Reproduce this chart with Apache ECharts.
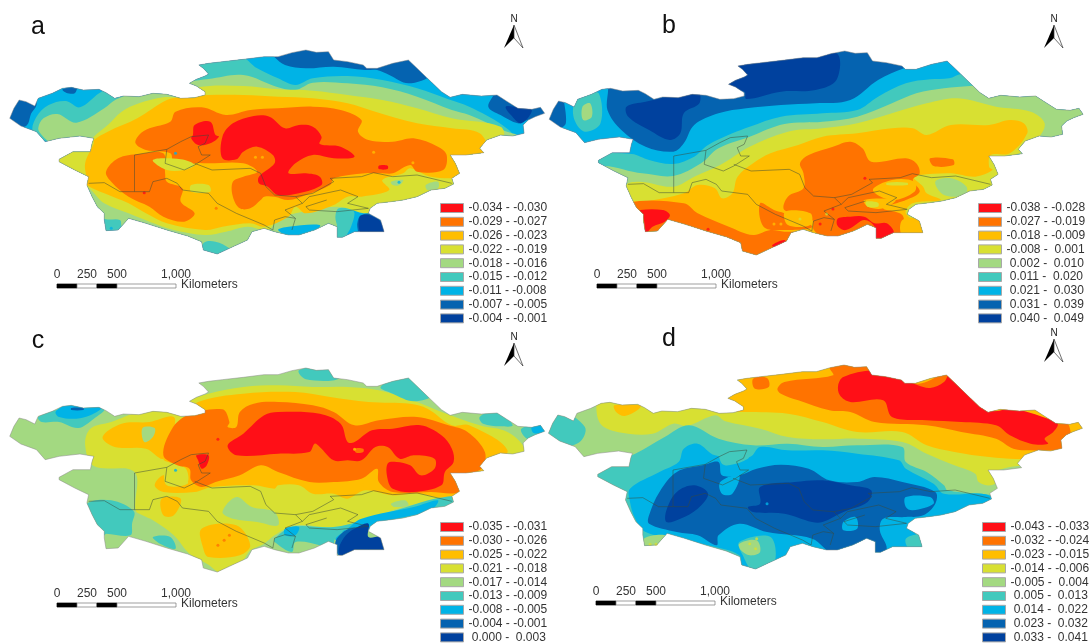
<!DOCTYPE html>
<html><head><meta charset="utf-8">
<style>html,body{margin:0;padding:0;background:#fff}#c{width:1089px;height:644px;filter:blur(0.4px)}</style>
<script src="https://cdn.jsdelivr.net/npm/echarts@6/dist/echarts.min.js"></script>
</head><body><div id="c"></div>
<script>
// Class colours, red (lowest) to navy (highest)
const classColors = ['#ff0f17','#ff7300','#ffbe00','#d8e032','#a3d981','#42c9bd','#00b3e6','#0563b0','#00419e'];

// Legend class labels for the four panels
const labelsA = ['-0.034 - -0.030','-0.029 - -0.027','-0.026 - -0.023','-0.022 - -0.019','-0.018 - -0.016','-0.015 - -0.012','-0.011 - -0.008','-0.007 - -0.005','-0.004 - -0.001'];
const labelsB = ['-0.038 - -0.028','-0.027 - -0.019','-0.018 - -0.009','-0.008 - 0.001','0.002 - 0.010','0.011 - 0.020','0.021 - 0.030','0.031 - 0.039','0.040 - 0.049'];
const labelsC = ['-0.035 - -0.031','-0.030 - -0.026','-0.025 - -0.022','-0.021 - -0.018','-0.017 - -0.014','-0.013 - -0.009','-0.008 - -0.005','-0.004 - -0.001','0.000 - 0.003'];
const labelsD = ['-0.043 - -0.033','-0.032 - -0.024','-0.023 - -0.015','-0.014 - -0.006','-0.005 - 0.004','0.005 - 0.013','0.014 - 0.022','0.023 - 0.032','0.033 - 0.041'];
const panelNames = ['a','b','c','d'];
const scaleTicks = ['0','250','500','1,000'];

// Region outline (map units)
const outline = [[28,355],[40,325],[55,300],[75,305],[100,318],[110,295],[150,280],[180,265],[205,262],[240,270],[285,268],[305,278],[330,295],[355,288],[400,290],[440,280],[480,283],[520,295],[560,293],[590,285],[590,275],[565,258],[545,250],[565,238],[590,228],[600,222],[585,205],[572,195],[600,190],[640,185],[700,178],[760,170],[800,170],[840,158],[880,150],[910,157],[945,155],[960,180],[1000,185],[1045,195],[1055,205],[1085,205],[1130,190],[1175,180],[1200,205],[1240,245],[1270,275],[1295,292],[1330,283],[1385,288],[1430,285],[1460,305],[1490,325],[1530,328],[1555,322],[1567,340],[1540,350],[1520,360],[1505,375],[1508,400],[1475,408],[1440,405],[1400,420],[1380,445],[1392,458],[1340,465],[1295,465],[1310,490],[1322,520],[1300,535],[1305,552],[1280,565],[1240,570],[1200,590],[1160,600],[1125,605],[1085,610],[1065,625],[1060,640],[1095,660],[1105,695],[1060,695],[1020,695],[985,712],[970,712],[970,680],[945,670],[925,680],[905,690],[860,705],[830,705],[790,695],[760,685],[725,695],[712,720],[660,745],[625,762],[585,750],[580,725],[540,708],[480,690],[420,670],[370,655],[340,690],[305,692],[300,660],[300,640],[280,620],[265,590],[250,555],[255,530],[215,510],[170,485],[170,478],[210,455],[260,455],[265,430],[270,415],[230,408],[170,415],[130,425],[105,395],[60,378]];

// Country borders and lake shores (map units)
const borders = [
 [[387,575],[387,465],[480,448],[520,425],[550,410],[600,405],[590,430],[570,440],[580,465],[605,465],[560,495],[530,510],[475,490],[480,448]],
 [[255,550],[300,548],[345,575],[387,575],[430,575],[440,545],[480,535],[510,550],[525,570],[600,580],[625,610],[680,640],[760,675],[785,690],[790,660],[820,650],[850,655],[840,690]],
 [[560,490],[610,510],[720,505],[750,520],[765,560],[790,585],[850,590],[900,580],[960,545],[950,535],[1040,530],[1075,518],[1130,530],[1200,525],[1300,550]],
 [[850,590],[870,610],[820,630],[850,655]],
 [[870,610],[890,590],[980,570],[1030,590],[1000,610],[1060,625],[970,635],[890,630],[880,620],[940,600]]
];

// Offsets of the shared outline in each panel's map frame
const panelShift = [[0,0],[-16,3],[0,-12],[-18,-21]];

// Contour layers, painted in order: [class index, [polygons]]
const layersA = [
 [7,[[[-20,-20],[1600,-20],[1600,900],[-20,900]]]],
 [6,[[[105,250],[770,150],[790,172],[820,195],[880,205],[960,200],[1050,210],[1085,210],[1120,225],[1175,250],[1240,225],[1210,190],[1240,170],[1420,270],[1405,320],[1440,345],[1490,370],[1510,362],[1600,350],[1600,620],[1110,640],[1040,645],[1028,670],[1030,700],[1020,800],[0,800],[0,400],[75,378],[90,340],[105,315]]]],
 [5,[[[95,395],[105,350],[140,315],[190,303],[230,322],[285,280],[320,260],[500,200],[690,170],[740,205],[800,235],[850,255],[900,235],[1000,228],[1100,240],[1200,265],[1290,298],[1350,320],[1445,375],[1480,420],[1400,600],[1100,620],[1010,620],[1020,640],[1010,680],[1000,700],[985,730],[500,800],[300,800],[200,600],[150,440]]]],
 [4,[[[120,405],[110,385],[125,355],[165,342],[220,368],[300,325],[335,298],[400,275],[545,245],[600,237],[700,225],[800,262],[850,270],[900,248],[1000,250],[1100,262],[1200,290],[1300,330],[1350,345],[1445,390],[1500,420],[1400,600],[1050,625],[975,625],[965,650],[968,690],[900,760],[680,770],[660,745],[620,725],[585,730],[560,800],[360,700],[350,680],[345,660],[305,658],[250,640],[200,600],[150,440]]]],
 [3,[[[250,560],[200,530],[150,480],[200,440],[262,425],[270,410],[310,375],[350,335],[400,310],[470,292],[530,290],[570,262],[700,258],[800,268],[900,272],[1000,285],[1100,300],[1200,325],[1300,355],[1440,380],[1450,420],[1400,600],[1060,640],[970,620],[850,640],[800,660],[770,690],[712,680],[650,695],[590,705],[500,690],[430,665],[370,640],[300,610],[262,570]]]],
 [2,[[[250,555],[250,540],[245,490],[270,430],[270,420],[310,395],[395,355],[480,300],[530,290],[600,285],[700,285],[800,290],[900,295],[1000,310],[1080,335],[1200,370],[1300,385],[1380,400],[1400,450],[1340,500],[1330,530],[1240,530],[1180,505],[1160,520],[1100,540],[1120,570],[1040,590],[1000,590],[960,615],[880,640],[850,620],[830,650],[760,680],[720,670],[640,680],[590,690],[480,670],[420,640],[370,610],[300,580]]]],
 [1,[[[390,430],[400,405],[430,385],[490,365],[505,335],[580,322],[650,345],[720,330],[800,325],[900,320],[980,330],[1040,360],[1030,395],[1060,420],[1130,425],[1190,415],[1260,440],[1285,465],[1275,510],[1200,515],[1180,495],[1130,520],[1100,520],[1050,520],[960,535],[950,555],[880,585],[830,600],[790,590],[760,590],[750,600],[720,625],[690,625],[670,590],[670,545],[700,530],[740,515],[700,490],[600,490],[560,490],[555,500],[500,490],[490,460],[420,450]],
      [[305,515],[340,475],[400,462],[470,460],[475,520],[480,545],[525,565],[520,605],[560,640],[530,665],[470,650],[430,620],[370,590],[320,545]]]],
 [3,[[[440,480],[520,478],[560,495],[530,510],[480,510]],[[550,555],[600,555],[605,575],[550,575]]]],
 [0,[[[640,475],[640,410],[670,370],[730,348],[775,350],[820,385],[860,375],[900,380],[925,410],[920,432],[980,440],[1020,470],[960,475],[900,465],[850,490],[830,520],[880,520],[920,530],[925,555],[860,580],[800,585],[770,560],[745,550],[745,530],[790,490],[785,465],[740,440],[700,455],[680,478]],
      [[555,405],[560,375],[605,365],[620,405],[630,410],[605,430],[570,435],[550,415]],
      [[1090,497],[1115,497],[1115,507],[1090,507]]]],
 [4,[[[1125,545],[1160,540],[1150,555],[1130,555]],[[1225,555],[1260,545],[1260,565],[1230,570]]]],
 [6,[[[800,690],[830,680],[920,675],[905,695],[840,710]]]],
 [7,[[[180,268],[220,262],[215,280],[190,278]]]],
 [8,[[[1455,320],[1490,322],[1530,330],[1500,370],[1470,345]],[[1035,650],[1060,645],[1095,665],[1105,700],[1040,700]]]]
];
const layersB = [
 [7,[[[-20,-20],[1600,-20],[1600,900],[-20,900]]]],
 [6,[[[60,250],[175,250],[180,330],[220,390],[290,440],[370,455],[400,430],[430,375],[500,340],[580,325],[680,315],[780,310],[880,300],[960,240],[1035,205],[1140,170],[1600,170],[1600,800],[40,800],[40,395],[60,370]]]],
 [5,[[[140,465],[250,462],[300,480],[370,492],[430,470],[470,435],[540,400],[590,380],[680,350],[800,340],[900,330],[960,290],[1040,250],[1110,238],[1165,235],[1200,222],[1600,200],[1600,800],[100,800],[100,500]],
      [[85,310],[120,285],[155,280],[160,370],[115,395],[85,360]]]],
 [4,[[[150,510],[280,520],[370,528],[450,490],[500,445],[590,410],[690,372],[800,365],[900,350],[1000,310],[1070,280],[1150,265],[1225,258],[1300,250],[1600,250],[1600,800],[200,800]],
      [[108,320],[130,310],[135,350],[110,360]]]],
 [3,[[[230,560],[270,545],[370,560],[430,530],[505,495],[590,440],[700,395],[800,385],[900,370],[1000,340],[1100,310],[1190,295],[1300,320],[1400,335],[1440,370],[1420,415],[1350,470],[1300,480],[1320,550],[1350,650],[1100,800],[230,800]]]],
 [4,[[[1125,545],[1170,535],[1215,560],[1210,585],[1150,585]]]],
 [2,[[[240,610],[290,605],[400,580],[440,555],[490,565],[510,595],[540,580],[555,530],[600,490],[650,460],[730,435],[800,410],[900,400],[1000,385],[1060,385],[1100,405],[1170,375],[1280,375],[1340,360],[1380,370],[1390,400],[1340,460],[1285,465],[1280,500],[1290,510],[1240,530],[1170,520],[1080,525],[1060,530],[1090,560],[1100,580],[1140,600],[1060,610],[1040,640],[1100,700],[1000,800],[240,800]]]],
 [1,[[[735,490],[760,465],[830,440],[880,425],[915,445],[940,485],[1040,475],[1070,490],[1080,520],[1060,540],[1080,575],[1040,600],[975,625],[1030,645],[1030,690],[1010,710],[950,730],[930,680],[820,720],[775,690],[770,660],[690,630],[700,590],[745,565],[745,520]],
      [[240,610],[400,610],[440,640],[530,680],[600,705],[650,690],[690,695],[770,700],[790,730],[620,800],[500,740],[280,720],[240,660]],
      [[620,610],[660,630],[690,640],[770,680],[690,690],[630,680]],
      [[1110,475],[1175,478],[1178,495],[1120,498]]]],
 [2,[[[692,635],[765,640],[765,675],[700,675]],[[945,570],[1000,540],[1065,545],[1065,575],[1000,600]],[[920,600],[1010,600],[975,625],[930,620]],[[1030,660],[1085,660],[1100,705],[1030,705]]]],
 [3,[[[985,548],[1045,548],[1045,555],[985,555]],[[925,605],[960,608],[960,620],[930,620]]]],
 [0,[[[275,630],[340,630],[360,645],[345,665],[310,680],[290,700],[285,660],[275,640]],
      [[845,655],[880,650],[920,650],[950,670],[985,670],[1005,700],[955,725],[950,680],[920,660],[880,685],[860,690],[842,675]],
      [[655,735],[690,720],[695,735],[660,742]]]],
 [8,[[[555,190],[700,170],[840,160],[840,240],[780,270],[680,275],[580,297],[575,275],[510,265],[545,230]],
      [[235,320],[290,305],[440,275],[445,310],[400,340],[390,400],[360,420],[300,390],[240,350]]]]
];
const layersC = [
 [4,[[[-20,-20],[1600,-20],[1600,900],[-20,900]]]],
 [3,[[[545,240],[600,215],[700,195],[800,190],[900,195],[1000,195],[1090,205],[1200,240],[1270,270],[1380,310],[1460,330],[1510,380],[1490,400],[1400,450],[1340,480],[1330,530],[1300,535],[1180,550],[1060,590],[960,615],[850,610],[790,640],[760,665],[720,685],[700,715],[650,760],[595,725],[545,695],[500,640],[440,595],[410,580],[390,565],[387,450],[270,432],[245,370],[260,320],[320,300],[400,270],[480,265],[530,285],[570,265]]]],
 [4,[[[640,570],[680,525],[725,555],[790,570],[800,610],[740,600],[670,590]],[[1125,545],[1165,535],[1175,550],[1135,555]]]],
 [2,[[[470,410],[490,340],[530,285],[545,280],[570,240],[700,215],[850,210],[950,225],[1060,240],[1180,245],[1230,260],[1300,310],[1350,310],[1460,385],[1400,440],[1400,450],[1325,470],[1320,530],[1200,515],[1130,520],[1050,505],[1000,530],[960,515],[900,515],[860,490],[800,490],[790,500],[730,490],[610,495],[560,510],[470,510],[445,490],[470,460],[510,470],[540,480],[535,440],[500,425]],
      [[295,345],[350,305],[430,300],[500,285],[495,340],[470,410],[420,380],[330,375]],
      [[465,530],[520,530],[500,580],[470,580]],
      [[580,620],[680,610],[720,670],[690,700],[600,705],[585,680]]]],
 [4,[[[410,318],[445,318],[440,345],[415,360]]]],
 [3,[[[475,440],[500,425],[530,460],[540,485],[480,490]]]],
 [1,[[[470,400],[495,320],[540,280],[640,262],[660,300],[655,315],[680,315],[690,270],[730,245],[800,240],[900,250],[960,270],[1020,310],[1090,295],[1200,285],[1290,310],[1345,330],[1395,390],[1385,440],[1325,465],[1320,510],[1240,510],[1130,510],[1090,480],[1085,440],[1040,470],[960,480],[890,480],[800,450],[750,430],[690,460],[620,480],[580,495],[550,475],[545,440],[510,430]]]],
 [0,[[[655,370],[700,335],[760,280],[800,270],[920,275],[980,305],[1000,360],[1020,360],[1070,325],[1130,320],[1210,310],[1270,340],[1300,380],[1305,420],[1280,450],[1270,490],[1190,510],[1130,500],[1115,470],[1115,425],[1140,420],[1180,430],[1210,460],[1250,440],[1250,410],[1190,400],[1150,410],[1115,375],[1080,375],[1040,415],[1000,415],[960,415],[920,375],[905,365],[890,390],[800,395],[680,400]],
      [[565,400],[600,400],[595,430],[580,440],[570,415]]]],
 [1,[[[1020,380],[1045,380],[1045,390],[1025,392]]]],
 [5,[[[110,285],[170,262],[240,250],[300,262],[270,290],[225,318],[170,300],[120,300]],
      [[860,145],[950,130],[975,170],[880,172]],
      [[1095,195],[1175,155],[1240,220],[1190,238],[1130,215]],
      [[1380,285],[1430,265],[1475,310],[1440,313],[1390,305]],
      [[1500,320],[1580,300],[1580,340],[1520,352]],
      [[250,545],[320,535],[385,568],[380,605],[375,640],[305,635],[300,640],[250,600]],
      [[440,645],[490,645],[505,680],[460,665]],
      [[790,650],[840,615],[960,615],[1060,590],[1170,555],[1250,530],[1320,525],[1250,580],[1100,620],[1060,625],[965,650],[960,690],[920,670],[850,660],[840,690],[790,660]]]],
 [6,[[[160,270],[190,250],[290,258],[260,280],[220,290],[170,285]],
      [[1530,315],[1570,310],[1565,330],[1535,333]],
      [[1040,590],[1190,555],[1260,535],[1240,565],[1100,600],[1060,620],[990,625],[975,660],[965,650],[1000,620]],
      [[820,620],[860,615],[850,640],[820,640]]]],
 [7,[[[995,625],[1025,620],[1000,670],[975,700],[965,660]],[[205,258],[240,258],[240,264],[205,264]]]],
 [8,[[[1020,620],[1060,605],[1060,645],[1100,645],[1115,685],[1050,690],[985,710],[975,680],[995,640]]]]
];
const layersD = [
 [4,[[[-20,-20],[1600,-20],[1600,900],[-20,900]]]],
 [3,[[[150,200],[150,280],[170,315],[240,335],[310,335],[370,305],[410,312],[490,280],[520,298],[620,320],[700,345],[800,352],[900,350],[1030,360],[1100,395],[1180,430],[1240,455],[1250,480],[1285,490],[1310,470],[1295,450],[1380,430],[1600,420],[1600,100],[150,100]]]],
 [2,[[[200,250],[275,250],[270,262],[230,282],[205,270]],
      [[525,235],[560,195],[560,170],[800,130],[880,100],[1600,100],[1600,380],[1390,395],[1380,410],[1280,405],[1180,390],[1100,370],[1030,330],[900,330],[800,300],[700,275],[580,270],[520,265]]]],
 [1,[[[600,170],[640,168],[645,195],[605,200]],
      [[670,200],[690,180],[830,160],[820,135],[850,115],[920,115],[945,155],[1000,165],[1075,185],[1110,175],[1160,150],[1210,200],[1280,260],[1480,305],[1510,310],[1510,380],[1460,385],[1400,385],[1350,380],[1300,350],[1200,330],[1100,310],[950,300],[880,270],[820,265],[730,235],[680,215]]]],
 [0,[[[845,190],[860,165],[945,145],[1000,160],[1075,190],[1110,198],[1150,180],[1170,150],[1210,190],[1285,265],[1350,260],[1450,290],[1478,305],[1465,330],[1440,350],[1450,365],[1400,365],[1340,340],[1300,310],[1200,300],[1100,295],[1000,285],[975,235],[880,240],[850,220]]]],
 [5,[[[0,330],[45,270],[115,315],[100,360],[30,375]],
      [[145,440],[260,395],[345,345],[415,310],[500,350],[600,370],[700,365],[800,375],[900,370],[1030,375],[1040,420],[1100,450],[1150,490],[1160,505],[1300,525],[1270,560],[1100,700],[600,800],[300,700],[255,590],[225,535],[130,460]]]],
 [6,[[[245,500],[330,450],[385,420],[400,380],[440,365],[490,400],[590,405],[620,375],[700,385],[800,385],[900,395],[1020,415],[1040,440],[1120,485],[1150,515],[1260,515],[1290,530],[1200,590],[1060,610],[1110,700],[1040,700],[960,710],[830,710],[760,700],[725,700],[660,750],[570,745],[560,700],[470,670],[380,650],[290,630],[260,590],[245,540]]]],
 [5,[[[505,400],[590,390],[585,410],[530,430],[510,425]],[[560,660],[650,645],[660,725],[600,745],[570,700]],[[1040,650],[1080,640],[1095,680],[1050,680]]]],
 [4,[[[560,665],[610,655],[620,690],[590,700],[565,685]],[[285,650],[350,640],[340,670],[295,685]]]],
 [7,[[[300,580],[330,510],[380,450],[455,430],[500,420],[510,460],[560,460],[610,440],[680,428],[760,440],[820,475],[900,480],[950,465],[1030,480],[1125,510],[1125,545],[1090,580],[1040,585],[975,590],[965,625],[985,680],[960,700],[880,680],[830,695],[770,650],[640,630],[560,605],[500,640],[495,670],[440,640],[380,630],[300,605]]]],
 [6,[[[1040,525],[1110,525],[1120,545],[1060,565],[1040,555]],[[505,480],[560,460],[540,515],[510,515]],[[860,600],[895,585],[900,620],[860,625]]]],
 [8,[[[350,600],[350,565],[380,510],[430,490],[470,515],[440,560],[390,590]],
      [[585,555],[620,545],[620,495],[720,480],[800,475],[880,490],[940,505],[930,540],[860,570],[800,600],[770,600],[690,575],[600,570]]]]
];

// Small isolated spots: [class index, x, y]
const spotsA = [[2,735,472],[2,755,472],[2,1075,457],[2,1188,488],[0,415,578],[1,622,625],[6,1148,547],[6,320,685],[6,505,460]];
const spotsB = [[0,922,535],[0,470,688],[3,735,657],[2,660,672],[2,680,672],[3,812,642],[0,793,672],[0,830,627]];
const spotsC = [[1,645,655],[1,660,640],[1,627,670],[2,1020,382],[2,985,490],[2,1045,490],[0,627,352],[6,505,445]];
const spotsD = [[3,590,665],[3,607,680],[3,303,667],[3,320,667],[3,610,650],[6,640,545]];

const panels = [
 {layers:layersA,labels:labelsA,spots:spotsA,left:0,top:0,width:545,legend:[440,202],name:[38,27],north:[514,19],bar:[57,284]},
 {layers:layersB,labels:labelsB,spots:spotsB,left:545,top:0,width:544,legend:[978,202],name:[669,26],north:[1054,19],bar:[597,284]},
 {layers:layersC,labels:labelsC,spots:spotsC,left:0,top:322,width:545,legend:[440,521],name:[38,341],north:[514,337],bar:[57,603]},
 {layers:layersD,labels:labelsD,spots:spotsD,left:545,top:322,width:544,legend:[982,521],name:[669,339],north:[1054,333],bar:[596,601]}
];

const font = '"Liberation Sans", Arial, sans-serif';
const grid = [], xAxis = [], yAxis = [], series = [], legend = [], graphic = [];

function polySeries(name, color, polys, clipPts, idx, z) {
  return {
    type:'custom', name, xAxisIndex:idx, yAxisIndex:idx, z, silent:true, animation:false,
    itemStyle:{color}, clip:false,
    data:polys.map(p=>p[0]),
    renderItem:(params,api)=>{
      const pts = polys[params.dataIndex].map(p=>api.coord(p));
      return {type:'polygon', shape:{points:pts, smooth:0.35}, style:{fill:color},
        clipPath:{type:'polygon', shape:{points:clipPts.map(p=>api.coord(p))}}};
    }
  };
}
// Series and legend names carry the panel letter, since two panels share a class label
function fmtLabel(n){
  const m = n.split('|')[1].split(' - ');
  const a = m[0][0]==='-'?m[0]:'\u00a0'+m[0];
  const b = m[1][0]==='-'?m[1]:'\u00a0'+m[1];
  return a+' - '+b;
}

panels.forEach((p,i)=>{
  const nameOf = l => panelNames[i]+'|'+l;
  grid.push({left:p.left,top:p.top,width:p.width,height:322,show:false});
  xAxis.push({type:'value',gridIndex:i,min:0,max:1568,show:false});
  yAxis.push({type:'value',gridIndex:i,min:0,max:966,inverse:true,show:false});
  const [dx,dy] = panelShift[i];
  const out = outline.map(q=>[q[0]+dx,q[1]+dy]);
  p.layers.forEach(([k,polys],j)=>{
    series.push(polySeries(nameOf(p.labels[k]),classColors[k],polys,out,i,2+j*0.01));
  });
  series.push({type:'scatter',name:'spots'+i,xAxisIndex:i,yAxisIndex:i,z:3,silent:true,animation:false,symbolSize:3,
    data:p.spots.map(s=>({value:[s[1],s[2]],itemStyle:{color:classColors[s[0]]}}))});
  series.push({type:'custom',name:'outline'+i,xAxisIndex:i,yAxisIndex:i,z:4,silent:true,animation:false,clip:false,
    data:[out[0]],
    renderItem:(params,api)=>({type:'polygon',shape:{points:out.map(q=>api.coord(q))},
      style:{fill:'none',stroke:'#888',lineWidth:0.5}})});
  series.push({type:'custom',name:'borders'+i,xAxisIndex:i,yAxisIndex:i,z:5,silent:true,animation:false,clip:false,
    data:borders.map(b=>b[0]),
    renderItem:(params,api)=>({type:'polyline',
      shape:{points:borders[params.dataIndex].map(q=>api.coord([q[0]+dx,q[1]+dy]))},
      style:{fill:'none',stroke:'#3a4a3a',lineWidth:0.5}})});
  legend.push({orient:'vertical',left:p.legend[0],top:p.legend[1],height:125,icon:'rect',itemWidth:23,itemHeight:9,itemGap:1.8,padding:0,
    selectedMode:false,data:p.labels.map(nameOf),formatter:fmtLabel,
    itemStyle:{borderColor:'#a8a8a8',borderWidth:1},
    textStyle:{fontFamily:font,fontSize:12,color:'#333',lineHeight:12}});

  // panel letter
  graphic.push({type:'text',x:p.name[0],y:p.name[1],silent:true,
    style:{text:panelNames[i],font:'25px '+font,fill:'#111',align:'center',verticalAlign:'middle'}});
  // north arrow
  const [nx,ny] = p.north;
  graphic.push({type:'text',x:nx,y:ny,silent:true,style:{text:'N',font:'10px '+font,fill:'#222',align:'center',verticalAlign:'middle'}});
  graphic.push({type:'polygon',silent:true,shape:{points:[[nx,ny+6],[nx-10,ny+29],[nx,ny+19]]},style:{fill:'#000'}});
  graphic.push({type:'polygon',silent:true,shape:{points:[[nx,ny+6],[nx+9,ny+29],[nx,ny+19]]},style:{fill:'#fff',stroke:'#333',lineWidth:0.7}});
  // scale bar
  const [bx,by] = p.bar;
  const stops = [0,20,40,60,119];
  for(let s=0;s<4;s++){
    graphic.push({type:'rect',silent:true,shape:{x:bx+stops[s],y:by,width:stops[s+1]-stops[s],height:4},
      style:{fill:s%2?'#fff':'#000',stroke:s%2?'#777':'#000',lineWidth:0.7}});
  }
  [0,30,60,119].forEach((o,t)=>{
    graphic.push({type:'text',x:bx+o,y:by-9,silent:true,style:{text:scaleTicks[t],font:'12px '+font,fill:'#333',align:'center',verticalAlign:'middle'}});
  });
  graphic.push({type:'text',x:bx+124,y:by+1,silent:true,style:{text:'Kilometers',font:'12px '+font,fill:'#333',align:'left',verticalAlign:'middle'}});
});

const chart = echarts.init(document.getElementById('c'));
chart.setOption({animation:false,backgroundColor:'#fff',grid,xAxis,yAxis,legend,series,graphic:{elements:graphic}});
</script></body></html>
